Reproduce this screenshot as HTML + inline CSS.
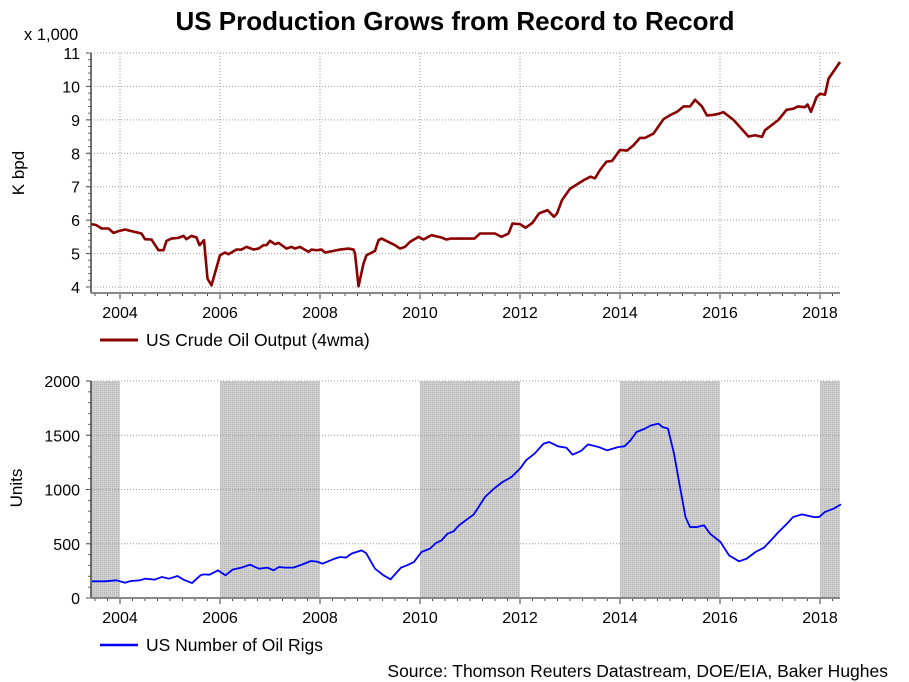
<!DOCTYPE html>
<html><head><meta charset="utf-8"><style>
html,body{margin:0;padding:0;background:#fff;width:909px;height:682px;overflow:hidden}
svg text{font-family:"Liberation Sans",sans-serif;fill:#000}
</style></head><body>
<svg id="c" width="909" height="682"></svg>
<script>
const topYears=[2003.43,2003.53,2003.63,2003.77,2003.87,2003.97,2004.1,2004.23,2004.43,2004.5,2004.63,2004.77,2004.87,2004.93,2005.03,2005.17,2005.27,2005.33,2005.43,2005.53,2005.59,2005.68,2005.75,2005.83,2006.0,2006.1,2006.17,2006.33,2006.43,2006.53,2006.67,2006.77,2006.87,2006.93,2007.0,2007.1,2007.17,2007.33,2007.43,2007.5,2007.6,2007.77,2007.83,2007.93,2008.03,2008.1,2008.27,2008.4,2008.57,2008.67,2008.7,2008.77,2008.87,2008.93,2009.1,2009.17,2009.23,2009.5,2009.6,2009.7,2009.8,2009.97,2010.07,2010.23,2010.43,2010.53,2010.62,2011.09,2011.2,2011.5,2011.63,2011.77,2011.85,2012.0,2012.11,2012.25,2012.38,2012.55,2012.68,2012.74,2012.84,2013.0,2013.28,2013.41,2013.5,2013.6,2013.73,2013.84,2014.0,2014.14,2014.27,2014.4,2014.5,2014.67,2014.87,2015.0,2015.14,2015.27,2015.4,2015.5,2015.64,2015.74,2015.87,2015.97,2016.07,2016.27,2016.57,2016.7,2016.84,2016.9,2017.17,2017.33,2017.46,2017.56,2017.7,2017.75,2017.82,2017.93,2018.0,2018.1,2018.17,2018.4];
const topValues=[5.88,5.85,5.75,5.75,5.62,5.67,5.72,5.67,5.6,5.43,5.42,5.1,5.1,5.38,5.45,5.47,5.53,5.43,5.53,5.48,5.25,5.4,4.25,4.05,4.95,5.03,4.98,5.12,5.12,5.2,5.12,5.15,5.25,5.25,5.38,5.28,5.32,5.15,5.2,5.15,5.2,5.05,5.12,5.1,5.12,5.03,5.08,5.12,5.15,5.12,5.0,4.02,4.7,4.95,5.08,5.4,5.45,5.25,5.15,5.2,5.35,5.5,5.42,5.55,5.48,5.42,5.45,5.45,5.6,5.6,5.5,5.6,5.9,5.88,5.77,5.92,6.2,6.3,6.1,6.2,6.6,6.94,7.2,7.3,7.25,7.5,7.75,7.77,8.1,8.08,8.24,8.46,8.46,8.59,9.02,9.14,9.24,9.4,9.4,9.6,9.4,9.13,9.15,9.18,9.23,9.0,8.5,8.54,8.49,8.69,9.0,9.3,9.33,9.4,9.38,9.46,9.24,9.68,9.78,9.75,10.23,10.73];
const rigYears=[2003.44,2003.7,2003.93,2004.1,2004.22,2004.4,2004.5,2004.69,2004.84,2004.98,2005.15,2005.27,2005.44,2005.61,2005.67,2005.79,2005.96,2006.11,2006.25,2006.43,2006.6,2006.78,2006.95,2007.07,2007.18,2007.3,2007.47,2007.65,2007.82,2007.94,2008.05,2008.29,2008.4,2008.52,2008.63,2008.83,2008.92,2009.1,2009.27,2009.41,2009.62,2009.74,2009.88,2010.03,2010.2,2010.32,2010.43,2010.55,2010.67,2010.78,2010.96,2011.07,2011.15,2011.3,2011.48,2011.65,2011.83,2012.0,2012.12,2012.29,2012.47,2012.58,2012.76,2012.93,2013.05,2013.22,2013.36,2013.57,2013.74,2013.97,2014.09,2014.21,2014.33,2014.5,2014.62,2014.77,2014.85,2014.96,2015.08,2015.2,2015.31,2015.4,2015.54,2015.68,2015.8,2016.01,2016.18,2016.38,2016.53,2016.71,2016.88,2017.05,2017.17,2017.34,2017.46,2017.64,2017.87,2017.98,2018.1,2018.27,2018.42];
const rigValues=[154,154,163,141,157,163,178,169,194,178,203,169,138,209,218,215,255,209,261,280,307,270,280,255,286,280,280,310,341,335,316,362,378,372,409,439,415,270,209,172,280,301,332,424,455,507,531,593,614,670,731,768,823,931,1008,1069,1115,1192,1269,1330,1422,1438,1398,1385,1321,1355,1416,1392,1361,1392,1398,1453,1530,1561,1591,1607,1576,1561,1330,1023,746,654,654,670,593,516,393,338,362,424,464,547,608,685,746,771,746,746,793,823,863];
const shadeStarts=[2003.42,2006,2010,2014,2018];
const shadeEnds=[2004,2008,2012,2016,2018.4];
const yearTicks=[2004,2006,2008,2010,2012,2014,2016,2018];
const topTicks=[4,5,6,7,8,9,10,11];
const rigTicks=[0,500,1000,1500,2000];

const NS="http://www.w3.org/2000/svg";
const svg=document.getElementById('c');
function mk(t,a,txt){const e=document.createElementNS(NS,t);for(const k in a)e.setAttribute(k,a[k]);if(txt!==undefined)e.textContent=txt;svg.appendChild(e);return e;}
const X0=2003.42,X1=2018.4,PL=91,PR=840;
const xs=y=>PL+(y-X0)/(X1-X0)*(PR-PL);
const ysTop=v=>287-(v-4)*33.43;
const ysRig=v=>598-v*0.1085;

const defs=document.createElementNS(NS,'defs');
defs.innerHTML='<pattern id="st" width="2" height="2" patternUnits="userSpaceOnUse"><rect width="2" height="2" fill="#d0d0d0"/><rect width="1" height="1" fill="#b4b4b4"/></pattern>';
svg.appendChild(defs);

let t=mk('text',{x:455,y:30,'text-anchor':'middle','font-size':26,'font-weight':'bold'},'US Production Grows from Record to Record');


t=mk('text',{x:24,y:40,'font-size':16.5},'x 1,000');

t=mk('text',{x:0,y:0,'font-size':17,'text-anchor':'middle',transform:'translate(24,173) rotate(-90)'},'K bpd');

topTicks.forEach(v=>{const y=ysTop(v);
 const g=mk('line',{x1:PL,x2:PR,y1:y,y2:y,stroke:'#999','stroke-dasharray':'1,2'});
 
 mk('line',{x1:PL-5,x2:PL,y1:y,y2:y,stroke:'#444'});
 const l=mk('text',{x:80,y:y+6,'text-anchor':'end','font-size':16},String(v));
 });
for(let v=4;v<11;v+=0.2){mk('line',{x1:PL-3,x2:PL,y1:ysTop(v),y2:ysTop(v),stroke:'#666'});}
yearTicks.forEach(yr=>{const x=xs(yr);
 const g=mk('line',{x1:x,x2:x,y1:53,y2:293,stroke:'#999','stroke-dasharray':'1,2'});
 
 mk('line',{x1:x,x2:x,y1:293,y2:299,stroke:'#333'});
 const l=mk('text',{x:x,y:318,'text-anchor':'middle','font-size':16},String(yr));
 });
for(let q=2003.5;q<2018.4;q+=0.25){mk('line',{x1:xs(q),x2:xs(q),y1:293,y2:296,stroke:'#444'});}
mk('line',{x1:PL,x2:PL,y1:53,y2:293,stroke:'#444','stroke-width':1.5});
mk('line',{x1:PL,x2:PR,y1:293,y2:293,stroke:'#888','stroke-width':2});
let p=mk('polyline',{points:topYears.map((y,i)=>xs(y)+','+ysTop(topValues[i])).join(' '),fill:'none',stroke:'#8b0000','stroke-width':2.6,'stroke-linejoin':'round'});

let lg=mk('line',{x1:100,x2:138,y1:340,y2:340,stroke:'#8b0000','stroke-width':3});

t=mk('text',{x:146,y:346,'font-size':17.5},'US Crude Oil Output (4wma)');


shadeStarts.forEach((s,i)=>{const r=mk('rect',{x:xs(s),y:381,width:xs(shadeEnds[i])-xs(s),height:217,fill:'url(#st)'});
 });
t=mk('text',{x:0,y:0,'font-size':17,'text-anchor':'middle',transform:'translate(22,488) rotate(-90)'},'Units');

rigTicks.forEach(v=>{const y=ysRig(v);
 if(v>0){const g=mk('line',{x1:PL,x2:PR,y1:y,y2:y,stroke:'#999','stroke-dasharray':'1,2'});
 }
 mk('line',{x1:PL-5,x2:PL,y1:y,y2:y,stroke:'#444'});
 const l=mk('text',{x:80,y:y+6,'text-anchor':'end','font-size':16},String(v));
 });
for(let v=0;v<2000;v+=100){mk('line',{x1:PL-3,x2:PL,y1:ysRig(v),y2:ysRig(v),stroke:'#666'});}
yearTicks.forEach(yr=>{const x=xs(yr);
 mk('line',{x1:x,x2:x,y1:598,y2:604,stroke:'#333'});
 const l=mk('text',{x:x,y:623,'text-anchor':'middle','font-size':16},String(yr));
 });
for(let q=2003.5;q<2018.4;q+=0.25){mk('line',{x1:xs(q),x2:xs(q),y1:598,y2:601,stroke:'#444'});}
mk('line',{x1:PL,x2:PL,y1:381,y2:598,stroke:'#444','stroke-width':1.5});
mk('line',{x1:PL,x2:PR,y1:598,y2:598,stroke:'#888','stroke-width':2});
p=mk('polyline',{points:rigYears.map((y,i)=>xs(y)+','+ysRig(rigValues[i])).join(' '),fill:'none',stroke:'#0000ff','stroke-width':1.8,'stroke-linejoin':'round'});

lg=mk('line',{x1:100,x2:138,y1:645,y2:645,stroke:'#0000ff','stroke-width':2.5});

t=mk('text',{x:146,y:651,'font-size':17.5},'US Number of Oil Rigs');

t=mk('text',{x:888,y:677,'text-anchor':'end','font-size':17.5},'Source: Thomson Reuters Datastream, DOE/EIA, Baker Hughes');

</script>
</body></html>
